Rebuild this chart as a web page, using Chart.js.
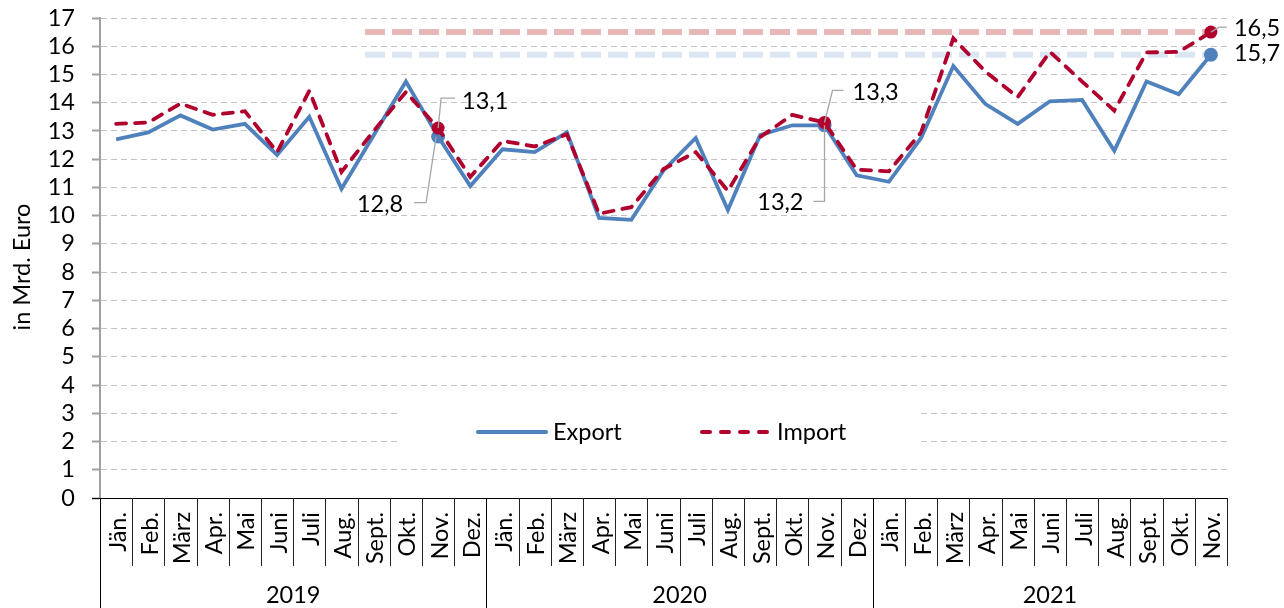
<!DOCTYPE html>
<html><head><meta charset="utf-8">
<script src="https://cdn.jsdelivr.net/npm/chart.js@4.4.1/dist/chart.umd.min.js"></script>
<style>html,body{margin:0;padding:0;background:#fff;overflow:hidden}#wrap{width:1284px;height:608px;position:relative}</style>
</head><body><div id="wrap"><canvas id="c" width="1284" height="608"></canvas></div>
<script>
// ---- data ----
const monthNames = ['Jän.','Feb.','März','Apr.','Mai','Juni','Juli','Aug.','Sept.','Okt.','Nov.','Dez.'];
const years = ['2019','2020','2021'];
const monthsPerYear = [12, 12, 11];
const categories = [];
years.forEach((y, i) => { for (let m = 0; m < monthsPerYear[i]; m++) categories.push(monthNames[m] + ' ' + y); });

const exportValues = [
  12.7, 12.95, 13.55, 13.05, 13.25, 12.15, 13.5, 10.95, 12.85, 14.75, 12.8, 11.05,
  12.35, 12.25, 12.95, 9.92, 9.85, 11.6, 12.75, 10.2, 12.85, 13.2, 13.2, 11.43,
  11.2, 12.75, 15.3, 13.95, 13.25, 14.05, 14.1, 12.3, 14.75, 14.3, 15.7
];
const importValues = [
  13.25, 13.3, 13.97, 13.57, 13.7, 12.25, 14.42, 11.55, 13.0, 14.38, 13.1, 11.37,
  12.65, 12.45, 12.88, 10.07, 10.3, 11.65, 12.25, 10.88, 12.78, 13.57, 13.3, 11.63,
  11.57, 12.95, 16.28, 15.1, 14.2, 15.8, 14.75, 13.72, 15.78, 15.8, 16.5
];
const markedIndices = [10, 22, 34];
const exportLabels = {10: '12,8', 22: '13,2', 34: '15,7'};
const importLabels = {10: '13,1', 22: '13,3', 34: '16,5'};
const referenceLevels = [{value: 16.5, color: '#e6b9b8'}, {value: 15.7, color: '#dce6f2'}];
const yMin = 0, yMax = 17, yStep = 1;
const yTitle = 'in Mrd. Euro';
const seriesNames = ['Export', 'Import'];

// ---- styles ----
const BLUE = '#4f81bd', RED = '#b0002e';
const FONT = 'Lato, "Open Sans", sans-serif';
const FS = 23.5;

function radii(r) { return categories.map((_, i) => markedIndices.includes(i) ? r : 0); }

const refLinesPlugin = {
  id: 'refLines',
  beforeDatasetsDraw(chart) {
    const {ctx, scales: {x, y}} = chart;
    const x1 = x.getPixelForValue(7) + 0.73 * (x.getPixelForValue(8) - x.getPixelForValue(7));
    const x2 = x.getPixelForValue(categories.length - 1);
    ctx.save();
    ctx.lineWidth = 6; ctx.setLineDash([20, 7]); ctx.lineCap = 'butt';
    referenceLevels.forEach(r => {
      const yy = y.getPixelForValue(r.value);
      ctx.strokeStyle = r.color;
      ctx.beginPath(); ctx.moveTo(x1, yy); ctx.lineTo(x2, yy); ctx.stroke();
    });
    ctx.restore();
  }
};

const axisPlugin = {
  id: 'xAxisCustom',
  afterDraw(chart) {
    const {ctx, scales: {x, y}, chartArea} = chart;
    const n = categories.length;
    const w = (x.getPixelForValue(1) - x.getPixelForValue(0));
    const left = chartArea.left, right = chartArea.right, bottom = chartArea.bottom;
    ctx.save();
    ctx.strokeStyle = '#000'; ctx.lineWidth = 1.2; ctx.setLineDash([]);
    ctx.beginPath(); ctx.moveTo(left - 8, bottom + 0.5); ctx.lineTo(right, bottom + 0.5); ctx.stroke();
    const yearBounds = [0];
    monthsPerYear.reduce((a, c) => { yearBounds.push(a + c); return a + c; }, 0);
    ctx.lineWidth = 1;
    for (let i = 0; i <= n; i++) {
      const xx = Math.round(x.getPixelForValue(i) - w / 2) + 0.5;
      const isYear = yearBounds.includes(i) && i < n;
      ctx.strokeStyle = isYear ? '#000' : '#222';
      ctx.beginPath(); ctx.moveTo(xx, bottom); ctx.lineTo(xx, isYear ? 608 : 566); ctx.stroke();
    }
    ctx.fillStyle = '#000';
    ctx.font = FS + 'px ' + FONT;
    ctx.textAlign = 'right'; ctx.textBaseline = 'middle';
    for (let i = 0; i < n; i++) {
      const label = categories[i].split(' ')[0];
      ctx.save();
      ctx.translate(x.getPixelForValue(i) + 2, 512);
      ctx.rotate(-Math.PI / 2);
      ctx.fillText(label, 0, 0);
      ctx.restore();
    }
    ctx.textAlign = 'center';
    years.forEach((yr, k) => {
      const a = x.getPixelForValue(yearBounds[k]) - w / 2;
      const b = x.getPixelForValue(yearBounds[k + 1] - 1) + w / 2;
      ctx.fillText(yr, (a + b) / 2, 595);
    });
    ctx.save();
    ctx.translate(22, 267); ctx.rotate(-Math.PI / 2);
    ctx.fillText(yTitle, 0, 0);
    ctx.restore();
    ctx.restore();
  }
};

const legendPlugin = {
  id: 'customLegend',
  afterDatasetsDraw(chart) {
    const {ctx} = chart;
    ctx.save();
    ctx.fillStyle = '#fff';
    ctx.fillRect(397, 402, 521, 54);
    const cy = 432;
    ctx.lineWidth = 4; ctx.lineCap = 'round';
    ctx.strokeStyle = BLUE; ctx.setLineDash([]);
    ctx.beginPath(); ctx.moveTo(478, cy); ctx.lineTo(546, cy); ctx.stroke();
    ctx.strokeStyle = RED; ctx.setLineDash([8, 11]);
    ctx.beginPath(); ctx.moveTo(702, cy); ctx.lineTo(772, cy); ctx.stroke();
    ctx.setLineDash([]);
    ctx.fillStyle = '#000'; ctx.font = FS + 'px ' + FONT;
    ctx.textAlign = 'left'; ctx.textBaseline = 'middle';
    ctx.fillText(seriesNames[0], 553, cy);
    ctx.fillText(seriesNames[1], 777, cy);
    ctx.restore();
  }
};

const labelPlugin = {
  id: 'valueLabels',
  afterDatasetsDraw(chart) {
    const {ctx, scales: {x, y}} = chart;
    ctx.save();
    ctx.font = FS + 'px ' + FONT; ctx.fillStyle = '#000'; ctx.textBaseline = 'middle';
    ctx.strokeStyle = '#a6a6a6'; ctx.lineWidth = 1.3; ctx.setLineDash([]);
    const line = (pts) => { ctx.beginPath(); ctx.moveTo(pts[0][0], pts[0][1]); for (let k = 1; k < pts.length; k++) ctx.lineTo(pts[k][0], pts[k][1]); ctx.stroke(); };
    markedIndices.forEach((i, k) => {
      const px = x.getPixelForValue(i);
      const pyI = y.getPixelForValue(importValues[i]);
      const pyE = y.getPixelForValue(exportValues[i]);
      if (k === 0) {
        line([[px, pyI], [px + 3, pyI - 30], [px + 17, pyI - 30]]);
        ctx.textAlign = 'left'; ctx.fillText(importLabels[i], px + 24, pyI - 27);
        line([[px - 2, pyE], [px - 12, pyE + 66], [px - 24, pyE + 66]]);
        ctx.textAlign = 'right'; ctx.fillText(exportLabels[i], px - 35, pyE + 68);
      } else if (k === 1) {
        line([[px, pyI], [px + 8, pyI - 32], [px + 19, pyI - 32]]);
        ctx.textAlign = 'left'; ctx.fillText(importLabels[i], px + 28, pyI - 30);
        line([[px, pyE], [px, pyE + 76], [px - 11, pyE + 76]]);
        ctx.textAlign = 'right'; ctx.fillText(exportLabels[i], px - 21, pyE + 77);
      } else {
        line([[px, pyI], [px + 8, pyI - 5], [px + 16, pyI - 5]]);
        ctx.textAlign = 'left'; ctx.fillText(importLabels[i], px + 23, pyI - 4);
        ctx.fillText(exportLabels[i], px + 23, pyE - 1);
      }
    });
    ctx.restore();
  }
};

new Chart(document.getElementById('c'), {
  type: 'line',
  data: {
    labels: categories,
    datasets: [
      {label: seriesNames[1], data: importValues, borderColor: RED, backgroundColor: RED, borderWidth: 3.8,
       borderDash: [10, 9], borderCapStyle: 'round', tension: 0, order: 0,
       pointRadius: radii(6.5), pointBackgroundColor: RED, pointBorderWidth: 0, pointHoverRadius: 0},
      {label: seriesNames[0], data: exportValues, borderColor: BLUE, backgroundColor: BLUE, borderWidth: 3.8,
       tension: 0, order: 1,
       pointRadius: radii(7), pointBackgroundColor: BLUE, pointBorderWidth: 0, pointHoverRadius: 0}
    ]
  },
  options: {
    responsive: false, animation: false, devicePixelRatio: 1, events: [],
    layout: {padding: {top: 18, right: 57, bottom: 0, left: 0}},
    plugins: {legend: {display: false}, tooltip: {enabled: false}, title: {display: false}},
    scales: {
      x: {type: 'category', offset: true,
          ticks: {display: false}, grid: {display: false, drawTicks: false}, border: {display: false},
          afterFit(s) { s.height = 110; s.paddingLeft = 0; s.paddingRight = 0; }},
      y: {min: yMin, max: yMax,
          ticks: {stepSize: yStep, color: '#000', font: {family: FONT, size: FS}, padding: 17, autoSkip: false},
          grid: {color: (c) => c.tick && c.tick.value === 0 ? 'rgba(0,0,0,0)' : '#c4c4c4', lineWidth: 1,
                 drawTicks: true, tickLength: 8, tickColor: '#a0a0a0', tickWidth: 2, tickBorderDash: []},
          border: {display: true, color: '#a0a0a0', width: 2, dash: [6, 4]},
          afterFit(s) { s.width = 100; s.paddingTop = 0; s.paddingBottom = 0; }}
    }
  },
  plugins: [refLinesPlugin, legendPlugin, labelPlugin, axisPlugin]
});
</script></body></html>
